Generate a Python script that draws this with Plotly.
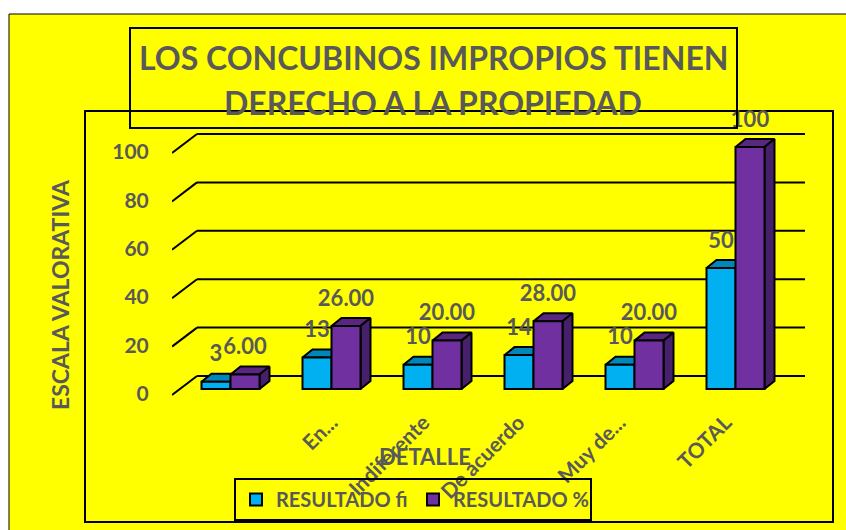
"""Encuesta: barras con aspecto 3D sobre fondo amarillo."""

import plotly.graph_objects as go

CATEGORIES = ["", "En...", "Indiferente", "De acuerdo", "Muy de...", "TOTAL"]
RESULTADO_FI = [3, 13, 10, 14, 10, 50]
RESULTADO_PCT = [6, 26, 20, 28, 20, 100]
PCT_LABELS = ["6.00", "26.00", "20.00", "28.00", "20.00", "100"]
Y_TICKS = [0, 20, 40, 60, 80, 100]

TEXT = "#595959"
FONT = "Lato, 'Open Sans', sans-serif"
YELLOW = "#FFFF00"

# page pixels: the plot area runs down past the legend so it never pushes the
# margins; the axes only use the part down to AXIS_B
FIG_W, FIG_H = 846, 530
PLOT_L, PLOT_R, PLOT_T, PLOT_B = 172, 805, 105, 525
AXIS_B = 400
X_RANGE = [(PLOT_L - 230.5) / 101, (PLOT_R - 230.5) / 101]
Y_RANGE = [(389 - AXIS_B) / 2.42, (389 - PLOT_T) / 2.42]
Y_DOMAIN = [(PLOT_B - AXIS_B) / (PLOT_B - PLOT_T), 1]

BAR_W = 29 / 101
DEPTH_X = 10 / 101   # bar depth, x units
DEPTH_Y = 8 / 2.42   # bar depth, y units
WALL_DX = 25 / 101
WALL_Y = 13 / 2.42
TICK_Y = -6 / 2.42
LABEL_LIFT = 26 / 2.42
# the original's rotated labels do not sit evenly under their groups (px)
TICK_NUDGE = [0, 8, -1, -7, -7, -2]


def paper_x(px):
    return (px - PLOT_L) / (PLOT_R - PLOT_L)


def paper_y(py):
    return (PLOT_B - py) / (PLOT_B - PLOT_T)


def box(x0, y0, x1, y1, fill="rgba(0,0,0,0)", layer="above", width=2):
    return dict(
        type="rect", xref="paper", yref="paper",
        x0=paper_x(x0), x1=paper_x(x1), y0=paper_y(y0), y1=paper_y(y1),
        fillcolor=fill, line=dict(color="black", width=width), layer=layer,
    )


def label(text, x, y, size, angle=0):
    return dict(
        text=text, xref="paper", yref="paper", x=paper_x(x), y=paper_y(y),
        xanchor="center", yanchor="middle", textangle=angle, showarrow=False,
        font=dict(family=FONT, size=size, color=TEXT, weight="bold"),
    )


def top_face(x_mid, value):
    left, right = x_mid - BAR_W / 2, x_mid + BAR_W / 2
    xs = [left, right, right + DEPTH_X, left + DEPTH_X, left, None]
    ys = [value, value, value + DEPTH_Y, value + DEPTH_Y, value, None]
    return xs, ys


def side_face(x_mid, value):
    right = x_mid + BAR_W / 2
    xs = [right, right + DEPTH_X, right + DEPTH_X, right, right, None]
    ys = [0, DEPTH_Y, value + DEPTH_Y, value, 0, None]
    return xs, ys


def faces(builder, mids, values):
    xs, ys = [], []
    for mid, value in zip(mids, values):
        fx, fy = builder(mid, value)
        xs += fx
        ys += fy
    return xs, ys


idx = list(range(len(CATEGORIES)))
mid_fi = [i - BAR_W / 2 for i in idx]
mid_pct = [i + BAR_W / 2 for i in idx]

fig = go.Figure()

# depth faces on the main axes, front faces on an overlay so they cover them
for builder, mids, values, color in [
    (top_face, mid_fi, RESULTADO_FI, "#0087BA"),
    (top_face, mid_pct, RESULTADO_PCT, "#592680"),
    (side_face, mid_pct, RESULTADO_PCT, "#47206B"),
]:
    xs, ys = faces(builder, mids, values)
    fig.add_trace(go.Scatter(
        x=xs, y=ys, mode="lines", fill="toself", fillcolor=color,
        line=dict(color="black", width=2), showlegend=False, hoverinfo="skip",
    ))

fig.add_trace(go.Bar(
    x=mid_fi, y=RESULTADO_FI, width=BAR_W, name="RESULTADO fi",
    marker=dict(color="#00B0F0", line=dict(color="black", width=2)),
    xaxis="x2", yaxis="y2",
))
fig.add_trace(go.Bar(
    x=mid_pct, y=RESULTADO_PCT, width=BAR_W, name="RESULTADO %",
    marker=dict(color="#7030A0", line=dict(color="black", width=2)),
    xaxis="x2", yaxis="y2",
))
fig.add_trace(go.Scatter(
    x=mid_fi + mid_pct,
    y=[v + LABEL_LIFT for v in RESULTADO_FI + RESULTADO_PCT],
    text=[str(v) for v in RESULTADO_FI] + PCT_LABELS,
    mode="text", textposition="middle center", cliponaxis=False,
    textfont=dict(family=FONT, size=22, color=TEXT, weight="bold"),
    showlegend=False, hoverinfo="skip", xaxis="x2", yaxis="y2",
))

shapes = [
    box(9, 14, 850, 534, fill=YELLOW, layer="below", width=1),
    box(85, 111, 833, 522, layer="below"),
]
# gridlines on the back wall, with the slanted stub on the left wall
for tick in Y_TICKS:
    wall = tick + WALL_Y
    shapes.append(dict(type="line", xref="x", yref="y", x0=X_RANGE[0], y0=tick + TICK_Y,
                       x1=X_RANGE[0] + WALL_DX, y1=wall, line=dict(color="black", width=2), layer="below"))
    shapes.append(dict(type="line", xref="x", yref="y", x0=X_RANGE[0] + WALL_DX, y0=wall,
                       x1=X_RANGE[1], y1=wall, line=dict(color="black", width=2), layer="below"))
shapes.append(box(130, 28, 737, 128))

fig.update_layout(
    width=FIG_W,
    height=FIG_H,
    margin=dict(l=PLOT_L, r=FIG_W - PLOT_R, t=PLOT_T, b=FIG_H - PLOT_B),
    paper_bgcolor="white",
    plot_bgcolor="rgba(0,0,0,0)",
    barmode="overlay",
    font=dict(family=FONT, color=TEXT, size=20, weight="bold"),
    legend=dict(
        orientation="h", x=paper_x(234), y=paper_y(478), xanchor="left", yanchor="top",
        bgcolor="rgba(0,0,0,0)", bordercolor="black", borderwidth=2,
        entrywidth=132, entrywidthmode="pixels",
        font=dict(family=FONT, size=20, color=TEXT, weight="bold"),
    ),
    shapes=shapes,
    annotations=[
        label("LOS CONCUBINOS IMPROPIOS TIENEN", 433, 58, 32),
        label("DERECHO A LA PROPIEDAD", 433, 102, 32),
        label("DETALLE", 425, 456, 22),
        label("ESCALA VALORATIVA", 60, 295, 23, angle=-90),
    ],
    xaxis=dict(
        range=X_RANGE, tickvals=[i + n / 101 for i, n in zip(idx, TICK_NUDGE)],
        ticktext=CATEGORIES, tickangle=-45, automargin=False,
        showgrid=False, zeroline=False, showline=False,
        ticks="outside", ticklen=1, tickcolor="rgba(0,0,0,0)", ticklabelshift=-8,
        tickfont=dict(family=FONT, size=21, color=TEXT, weight="bold"),
    ),
    yaxis=dict(
        range=Y_RANGE, domain=Y_DOMAIN, automargin=False,
        tickvals=[t - 2 for t in Y_TICKS], ticktext=[str(t) for t in Y_TICKS],
        showgrid=False, zeroline=False, showline=False,
        ticks="outside", ticklen=18, tickcolor="rgba(0,0,0,0)",
        tickfont=dict(family=FONT, size=21, color=TEXT, weight="bold"),
    ),
    xaxis2=dict(range=X_RANGE, overlaying="x", visible=False, automargin=False),
    yaxis2=dict(range=Y_RANGE, domain=Y_DOMAIN, overlaying="y", visible=False, automargin=False),
)

# the chart fills the window, so drop the page's default body margin
fig.write_html(
    "out.html",
    config={"displayModeBar": False},
    post_script="document.body.style.margin = '0';",
)
